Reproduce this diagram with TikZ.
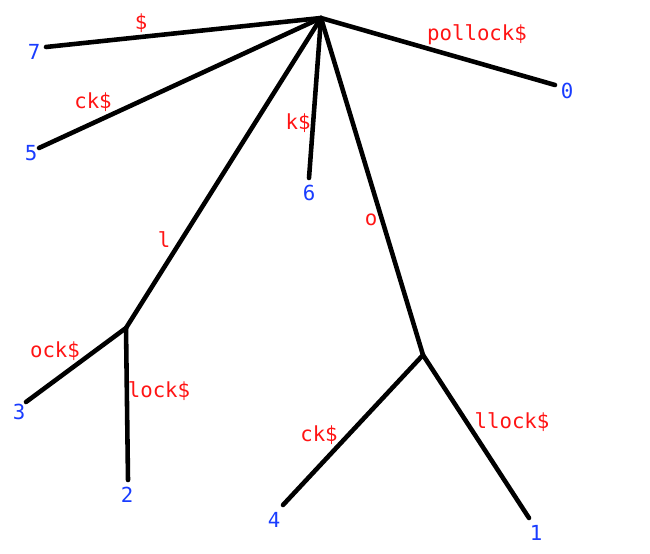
\documentclass[tikz,border=0pt]{standalone}
\usepackage{fontspec}
\setmonofont{DejaVu Sans Mono}
\definecolor{leafblue}{RGB}{25,60,255}
\definecolor{edgered}{RGB}{255,20,20}

\begin{document}
\begin{tikzpicture}[
  every node/.style={font=\ttfamily\fontsize{11.8}{13}\selectfont, inner sep=1pt},
  edgelbl/.style={text=edgered},
  leaflbl/.style={text=leafblue},
  branch/.style={line width=2.6pt, line cap=round}
]
\useasboundingbox (0,0) rectangle (13,11.06);
% inner nodes of the suffix tree of pollock$
\coordinate (root) at (6.42,10.70);
\coordinate (nl) at (2.52,4.50);
\coordinate (no) at (8.46,3.96);
% leaf ends
\coordinate (e7) at (0.92,10.12);
\coordinate (e5) at (0.78,8.10);
\coordinate (e6) at (6.18,7.50);
\coordinate (e0) at (11.10,9.36);
\coordinate (e3) at (0.52,3.02);
\coordinate (e2) at (2.56,1.46);
\coordinate (e4) at (5.66,0.96);
\coordinate (e1) at (10.58,0.70);

\draw [branch] (root) -- (e7);
\draw [branch] (root) -- (e5);
\draw [branch] (root) -- (nl);
\draw [branch] (root) -- (e6);
\draw [branch] (root) -- (no);
\draw [branch] (root) -- (e0);
\draw [branch] (nl) -- (e3);
\draw [branch] (nl) -- (e2);
\draw [branch] (no) -- (e4);
\draw [branch] (no) -- (e1);

% leaf numbers
\node [leaflbl] (l7) at (0.68,10.02) {7};
\node [leaflbl] (l5) at (0.62,8.00) {5};
\node [leaflbl] (l6) at (6.18,7.20) {6};
\node [leaflbl] (l0) at (11.34,9.24) {0};
\node [leaflbl] (l3) at (0.38,2.82) {3};
\node [leaflbl] (l2) at (2.54,1.16) {2};
\node [leaflbl] (l4) at (5.48,0.66) {4};
\node [leaflbl] (l1) at (10.72,0.40) {1};

% edge labels
\node [edgelbl] (s7) at (2.82,10.60) {\$};
\node [edgelbl] (s5) at (1.86,9.02) {ck\$};
\node [edgelbl] (s6) at (5.96,8.60) {k\$};
\node [edgelbl] (sl) at (3.28,6.26) {l};
\node [edgelbl] (so) at (7.42,6.66) {o};
\node [edgelbl] (s0) at (9.54,10.36) {pollock\$};
\node [edgelbl] (s3) at (1.10,4.04) {ock\$};
\node [edgelbl] (s2) at (3.18,3.24) {lock\$};
\node [edgelbl] (s4) at (6.38,2.36) {ck\$};
\node [edgelbl] (s1) at (10.24,2.62) {llock\$};
\end{tikzpicture}
\end{document}
